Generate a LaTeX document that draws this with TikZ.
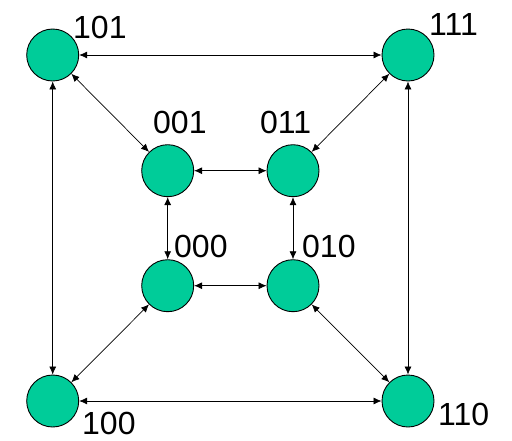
\documentclass[tikz,border=0pt]{standalone}
\usepackage{fontspec}
\setmainfont{Liberation Sans}
\usetikzlibrary{arrows.meta}

\definecolor{cubegreen}{RGB}{0,204,153}

\begin{document}
\begin{tikzpicture}[x=1pt, y=-1pt,
    state/.style={circle, draw=black, fill=cubegreen, minimum size=52pt, inner sep=0pt, line width=0.9pt},
    code/.style={anchor=base west, inner sep=0pt, font=\fontsize{32}{32}\selectfont},
    link/.style={{Latex[length=8pt,width=7pt]}-{Latex[length=8pt,width=7pt]}, line width=0.7pt, black}
]
\useasboundingbox (0,0) rectangle (512,440);

% Outer square
\node[state] (s101) at (52.7, 55) {};
\node[state] (s111) at (408, 55) {};
\node[state] (s100) at (52.7, 401) {};
\node[state] (s110) at (408, 401) {};

% Inner square
\node[state] (s001) at (167.7, 170.7) {};
\node[state] (s011) at (293, 170.7) {};
\node[state] (s000) at (167.7, 285.7) {};
\node[state] (s010) at (293, 285.7) {};

% Labels
\node[code] (l101) at (73, 38) {101};
\node[code] (l111) at (429, 35) {111};
\node[code] (l001) at (153, 133) {001};
\node[code] (l011) at (260, 133) {011};
\node[code] (l000) at (174, 257) {000};
\node[code] (l010) at (302, 257) {010};
\node[code] (l100) at (82, 434) {100};
\node[code] (l110) at (438, 425) {110};

% Outer edges
\draw[link] (s101) -- (s111);
\draw[link] (s101) -- (s100);
\draw[link] (s111) -- (s110);
\draw[link] (s100) -- (s110);

% Inner edges
\draw[link] (s001) -- (s011);
\draw[link] (s000) -- (s010);
\draw[link] (s001) -- (s000);
\draw[link] (s011) -- (s010);

% Diagonals
\draw[link] (s101) -- (s001);
\draw[link] (s111) -- (s011);
\draw[link] (s100) -- (s000);
\draw[link] (s110) -- (s010);

\end{tikzpicture}
\end{document}
